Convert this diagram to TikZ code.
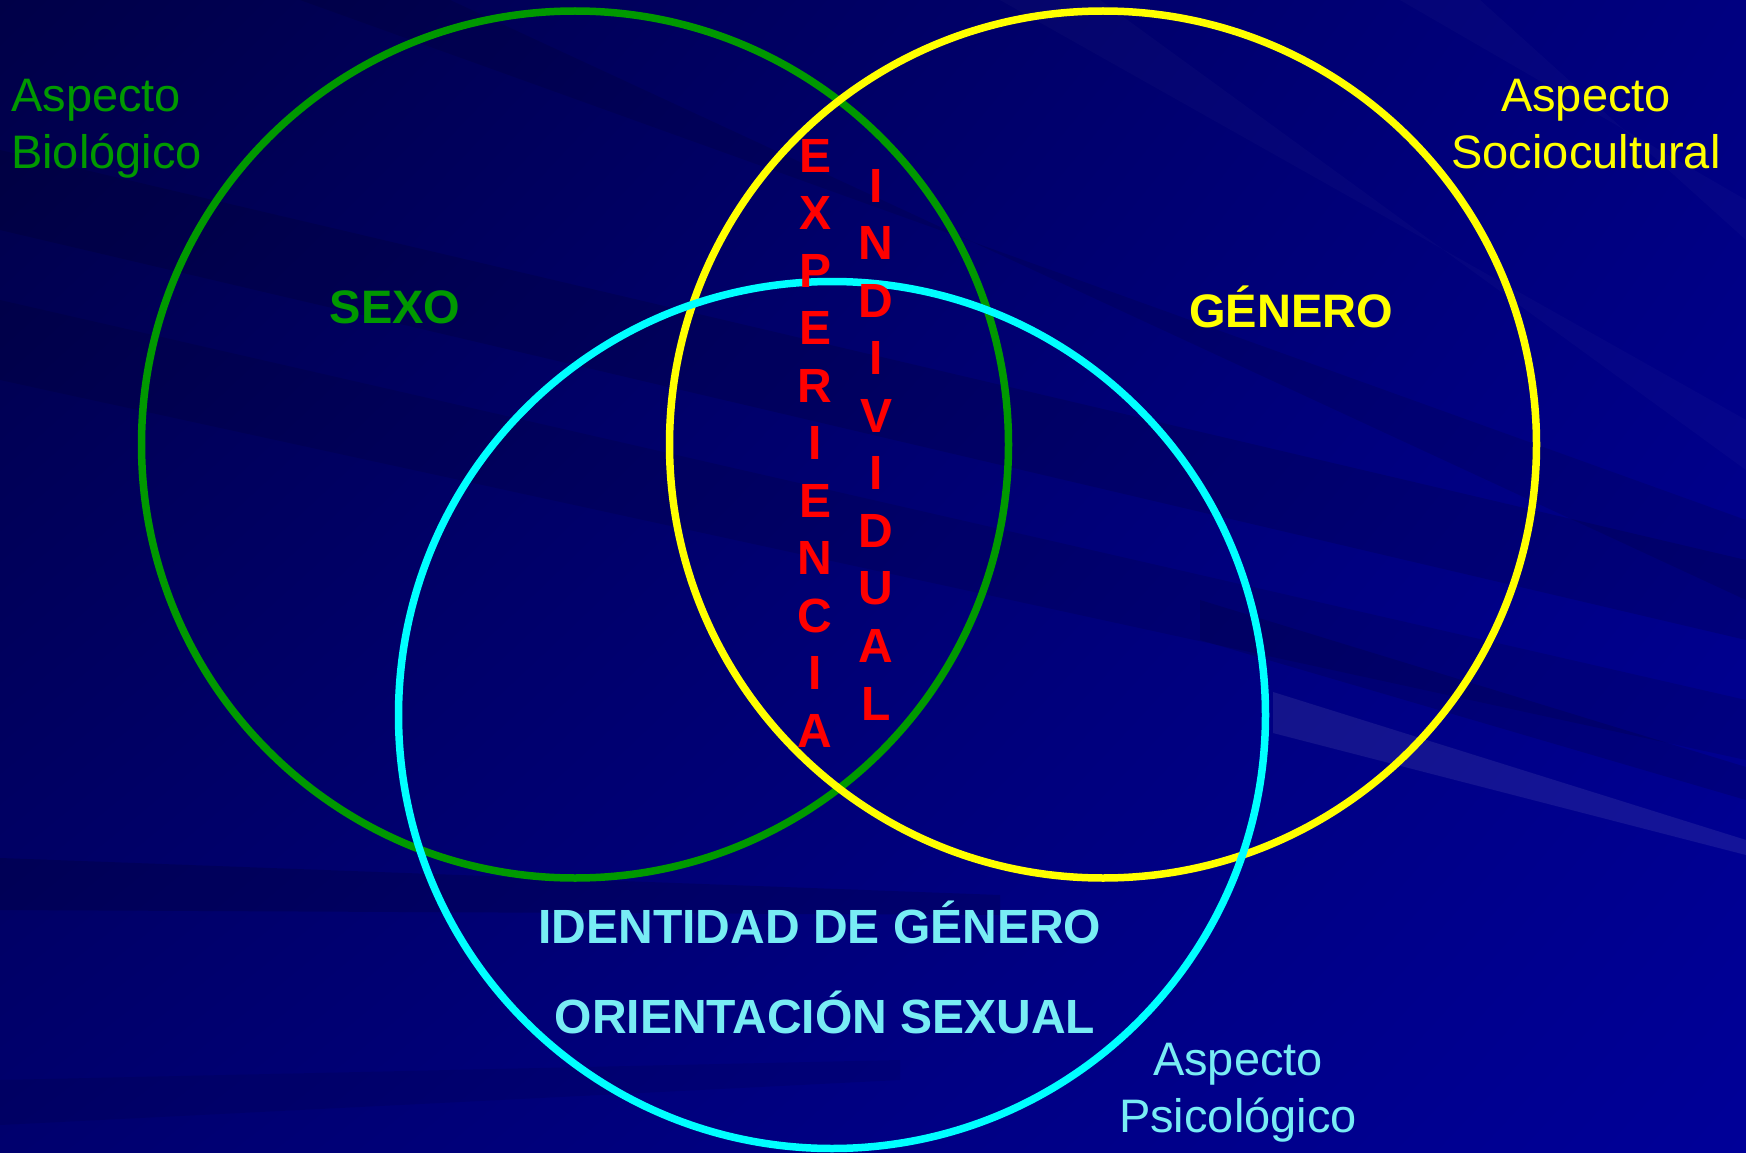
\documentclass[tikz,border=0pt]{standalone}
\usepackage{fontspec}
\usetikzlibrary{shadings}
\setmainfont{Liberation Sans}
\definecolor{cgreen}{RGB}{0,153,0}
\definecolor{cyellow}{RGB}{255,255,0}
\definecolor{ccyan}{RGB}{0,255,255}
\definecolor{ctcyan}{RGB}{120,236,244}
\definecolor{cred}{RGB}{255,0,0}
\definecolor{bgA}{RGB}{0,0,72}
\definecolor{bgB}{RGB}{0,0,128}
\definecolor{bgC}{RGB}{0,0,110}
\definecolor{bgD}{RGB}{0,0,152}
\begin{document}
\begin{tikzpicture}[x=1pt,y=-1pt,
  ring/.style={circle,draw=#1,line width=7.5pt,inner sep=0pt,minimum size=867pt},
  aspect/.style={inner sep=0pt,font=\fontsize{47}{56}\selectfont},
  title/.style={inner sep=0pt,anchor=base,font=\fontsize{47}{56}\selectfont\bfseries},
  sub/.style={inner sep=0pt,anchor=base,text=ctcyan,font=\fontsize{48}{56}\selectfont\bfseries},
  letter/.style={inner sep=0pt,anchor=base,text=cred,font=\fontsize{48}{56}\selectfont\bfseries},
  darkband/.style={fill=black,opacity=#1},
  lightband/.style={fill=white,opacity=#1}]
\useasboundingbox (0,0) rectangle (1746,1153);
% background
\shade[upper left=bgA, upper right=bgB, lower left=bgC, lower right=bgD] (0,0) rectangle (1746,1153);
\fill[darkband=0.12] (0,150) -- (1746,560) -- (1746,640) -- (0,230) -- cycle;
\fill[darkband=0.10] (0,300) -- (1746,700) -- (1746,760) -- (0,380) -- cycle;
\fill[darkband=0.14] (0,858) -- (1000,895) -- (1000,915) -- (0,910) -- cycle;
\fill[darkband=0.10] (300,0) -- (1746,520) -- (1746,600) -- (450,0) -- cycle;
\fill[darkband=0.08] (0,1080) -- (900,1060) -- (900,1080) -- (0,1125) -- cycle;
\fill[darkband=0.12] (1200,600) -- (1746,767) -- (1746,800) -- (1200,640) -- cycle;
\fill[lightband=0.02] (1000,0) -- (1746,420) -- (1746,470) -- (1100,0) -- cycle;
\fill[lightband=0.02] (1400,0) -- (1746,200) -- (1746,240) -- (1480,0) -- cycle;
\fill[lightband=0.08] (1273,692) -- (1746,840) -- (1746,855) -- (1273,733) -- cycle;
% circles
\node[ring=cgreen] (sexoc) at (575,444.5) {};
\node[ring=cyellow] (generoc) at (1103,444.5) {};
\node[ring=ccyan] (psic) at (832,715) {};
% labels
\node[aspect,anchor=base west,text=cgreen] (bio1) at (11,112) {Aspecto};
\node[aspect,anchor=base west,text=cgreen] (bio2) at (11,168) {Biológico};
\node[aspect,anchor=base,text=cyellow] (soc1) at (1586,112) {Aspecto};
\node[aspect,anchor=base,text=cyellow] (soc2) at (1586,168) {Sociocultural};
\node[aspect,anchor=base,text=ctcyan] (psi1) at (1238,1075) {Aspecto};
\node[aspect,anchor=base,text=ctcyan] (psi2) at (1238,1132) {Psicológico};
\node[title,text=cgreen] (sexo) at (395,323) {SEXO};
\node[title,text=cyellow] (genero) at (1291,327) {GÉNERO};
\node[sub] (ident) at (820,943) {IDENTIDAD DE GÉNERO};
\node[sub] (orient) at (825,1033) {ORIENTACIÓN SEXUAL};
\foreach \l [count=\i] in {E,X,P,E,R,I,E,N,C,I,A}
  \node[letter] (exp\i) at (815,{172+(\i-1)*57.5}) {\l};
\foreach \l [count=\i] in {I,N,D,I,V,I,D,U,A,L}
  \node[letter] (ind\i) at (876,{202+(\i-1)*57.56}) {\l};
\end{tikzpicture}
\end{document}
